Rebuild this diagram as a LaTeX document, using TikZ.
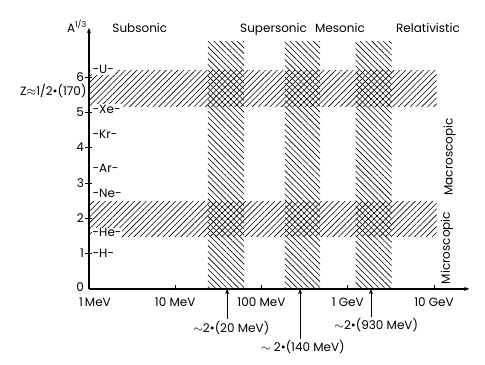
\documentclass[tikz,border=0pt]{standalone}
\usepackage{fontspec}
\setmainfont{Poppins}
\usetikzlibrary{arrows.meta, patterns.meta}

\begin{document}
\begin{tikzpicture}[x=64.7pt, y=26.5pt,
    >={Stealth[length=4pt, width=3pt]},
    axis/.style={line width=0.9pt, ->},
    lab/.style={font=\fontsize{9}{10}\selectfont, inner sep=1pt},
    elem/.style={lab, anchor=west, fill=white, inner sep=0.6pt},
    hband/.style={pattern={Lines[angle=45, distance=3.1pt, line width=0.45pt]}},
    vband/.style={pattern={Lines[angle=-45, distance=3.1pt, line width=0.45pt]}},
]
\useasboundingbox (-1.031,-2.153) rectangle (4.591,8.177);

% Hatched bands
\path[hband] (0,5.15) rectangle (4.03,6.17);
\path[hband] (0,1.47) rectangle (4.03,2.46);
\foreach \lo/\hi in {1.38/1.80, 2.27/2.68, 3.09/3.51}
  \path[vband] (\lo,0) rectangle (\hi,7.0);

% Axes
\draw[axis] (0,0) -- (4.41,0);
\draw[axis] (0,0) -- (0,7.39);
\node[lab, anchor=base east] (alab) at (-0.005,7.25) {A\textsuperscript{1/3}};

% Ticks on A^{1/3}
\foreach \v in {1,...,6} {
  \draw (-0.04,\v) -- (0.04,\v);
  \node[lab, anchor=east] (y\v) at (-0.04,\v) {\v};
}
\node[lab, anchor=east] (y0) at (-0.04,0.04) {0};

% Ticks on energy
\node[lab, anchor=base] (x0) at (0.07,-0.51) {1\,MeV};
\foreach \x/\t in {1/10 MeV, 2/100 MeV, 3/1 GeV, 4/10 GeV} {
  \draw (\x,-0.04) -- (\x,0.12);
  \node[lab, anchor=base] (x\x) at (\x,-0.51) {\t};
}

% Regimes
\node[lab, anchor=base] (sub) at (0.59,7.25) {Subsonic};
\node[lab, anchor=base] (sup) at (2.14,7.25) {Supersonic};
\node[lab, anchor=base] (mes) at (2.91,7.25) {Mesonic};
\node[lab, anchor=base] (rel) at (3.93,7.25) {Relativistic};
\node[lab, rotate=90] (macro) at (4.18,3.74) {Macroscopic};
\node[lab, rotate=90] (micro) at (4.15,1.16) {Microscopic};

% Nuclei
\foreach \e/\a in {U/6.2, Xe/5.08, Kr/4.38, Ar/3.42, Ne/2.71, He/1.587, H/1}
  \node[elem] (el\e) at (0.03,\a) {-\e-};
\node[lab, anchor=east] (zlab) at (-0.01,5.61) {Z$\approx$1/2\textbullet(170)};

% Thresholds
\coordinate (p20) at ({log10(40)},0);
\coordinate (p140) at ({log10(280)},0);
\coordinate (p930) at ({log10(1860)},0);
\node[lab, anchor=base] (l20) at (1.65,-1.22) {$\sim$2\textbullet(20 MeV)};
\node[lab, anchor=base] (l140) at (2.48,-1.78) {$\sim$ 2\textbullet(140 MeV)};
\node[lab, anchor=base] (l930) at (3.33,-1.16) {$\sim$2\textbullet(930 MeV)};
\draw[->] (l20.north -| p20) -- (p20);
\draw[->] (l140.north -| p140) -- (p140);
\draw[->] (l930.north -| p930) -- (p930);

\end{tikzpicture}
\end{document}
